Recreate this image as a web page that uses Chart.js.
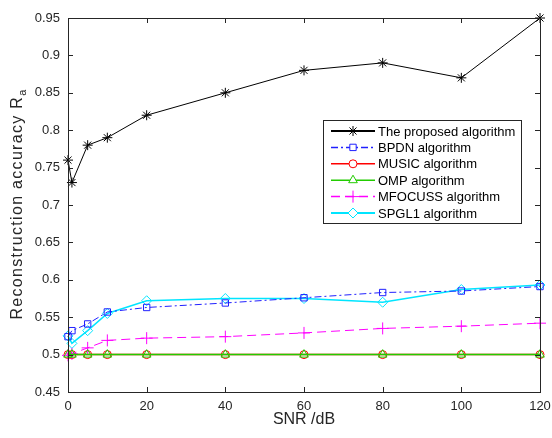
<!DOCTYPE html>
<html>
<head>
<meta charset="utf-8">
<script src="https://cdn.jsdelivr.net/npm/chart.js@4"></script>
<style>
  html, body { margin: 0; padding: 0; background: #fff; }
  #wrap { width: 552px; height: 438px; }
</style>
</head>
<body>
<div id="wrap"><canvas id="chart" width="552" height="438"></canvas></div>
<script>
// SNR values (dB) on the x axis
const snr = [0, 1, 5, 10, 20, 40, 60, 80, 100, 120];
const yTicks = [0.45, 0.5, 0.55, 0.6, 0.65, 0.7, 0.75, 0.8, 0.85, 0.9, 0.95];

const proposed = [0.76, 0.73, 0.78, 0.79, 0.82, 0.85, 0.88, 0.89, 0.87, 0.95];
const bpdn     = [0.524, 0.532, 0.541, 0.557, 0.563, 0.569, 0.576, 0.583, 0.585, 0.591];
const music    = [0.5, 0.5, 0.5, 0.5, 0.5, 0.5, 0.5, 0.5, 0.5, 0.5];
const omp      = [0.5, 0.5, 0.5, 0.5, 0.5, 0.5, 0.5, 0.5, 0.5, 0.5];
const mfocuss  = [0.499, 0.501, 0.509, 0.519, 0.522, 0.524, 0.529, 0.535, 0.538, 0.542];
const spgl1    = [0.525, 0.515, 0.532, 0.555, 0.572, 0.575, 0.575, 0.570, 0.587, 0.593];

const labels = ['The proposed algorithm', 'BPDN algorithm', 'MUSIC algorithm',
  'OMP algorithm', 'MFOCUSS algorithm', 'SPGL1 algorithm'];

function pts(vals) {
  return vals.map((v, i) => ({ x: snr[i], y: v }));
}

const FONT = '"Liberation Sans", Arial, sans-serif';

const series = [
  { data: proposed, color: '#000000', style: 'star', radius: 5, dash: [], lw: 1, legendLw: 2 },
  { data: bpdn, color: '#2020ff', style: 'rect', radius: 4.5, dash: [7, 3, 2, 3], lw: 1, legendLw: 1.5 },
  { data: music, color: '#ff0000', style: 'circle', radius: 4, dash: [], lw: 1.5, legendLw: 1.5 },
  { data: omp, color: '#22cc00', style: 'triangle', radius: 5, dash: [], lw: 1.5, legendLw: 1.5 },
  { data: mfocuss, color: '#ff00ff', style: 'cross', radius: 6, dash: [9, 5], lw: 1, legendLw: 1.5 },
  { data: spgl1, color: '#00e5ff', style: 'rectRot', radius: 5, dash: [], lw: 1.5, legendLw: 2 }
];

const datasets = series.map((s, i) => ({
  label: labels[i],
  data: pts(s.data),
  borderColor: s.color,
  backgroundColor: 'rgba(0,0,0,0)',
  borderWidth: s.lw,
  borderDash: s.dash,
  pointStyle: s.style,
  pointRadius: s.radius,
  pointBorderColor: s.color,
  pointBackgroundColor: 'rgba(0,0,0,0)',
  pointBorderWidth: 1,
  tension: 0,
  fill: false,
  clip: false,
  order: i === 2 ? 1 : 0  // MUSIC under OMP
}));

// frame, inward ticks, axis titles and the MATLAB style legend
const decor = {
  id: 'decor',
  afterDraw(chart) {
    const ctx = chart.ctx;
    const a = chart.chartArea;
    const xs = chart.scales.x, ys = chart.scales.y;
    ctx.save();
    ctx.strokeStyle = '#262626';
    ctx.lineWidth = 1;
    ctx.setLineDash([]);
    ctx.strokeRect(Math.round(a.left) + 0.5, Math.round(a.top) + 0.5,
      Math.round(a.right - a.left), Math.round(a.bottom - a.top));
    const tl = 5;
    ctx.beginPath();
    for (let v = 0; v <= 120; v += 20) {
      const px = Math.round(xs.getPixelForValue(v)) + 0.5;
      ctx.moveTo(px, a.bottom); ctx.lineTo(px, a.bottom - tl);
      ctx.moveTo(px, a.top); ctx.lineTo(px, a.top + tl);
    }
    yTicks.forEach(v => {
      const py = Math.round(ys.getPixelForValue(v)) + 0.5;
      ctx.moveTo(a.left, py); ctx.lineTo(a.left + tl, py);
      ctx.moveTo(a.right, py); ctx.lineTo(a.right - tl, py);
    });
    ctx.stroke();

    // axis titles
    ctx.fillStyle = '#262626';
    ctx.font = '16px ' + FONT;
    ctx.textAlign = 'center';
    ctx.textBaseline = 'alphabetic';
    ctx.fillText('SNR /dB', (a.left + a.right) / 2, 424);

    ctx.save();
    ctx.translate(22, (a.top + a.bottom) / 2 - 1);
    ctx.rotate(-Math.PI / 2);
    ctx.letterSpacing = '1.3px';
    const main = 'Reconstruction accuracy R';
    ctx.font = '16px ' + FONT;
    const w1 = ctx.measureText(main).width;
    ctx.font = '11px ' + FONT;
    const w2 = ctx.measureText('a').width;
    const start = -(w1 + w2) / 2;
    ctx.textAlign = 'left';
    ctx.font = '16px ' + FONT;
    ctx.fillText(main, start, 0);
    ctx.font = '11px ' + FONT;
    ctx.fillText('a', start + w1, 4);
    ctx.restore();

    // legend
    const lx = 323, ly = 120, lw = 198, lh = 103;
    ctx.fillStyle = '#ffffff';
    ctx.fillRect(lx, ly, lw, lh);
    ctx.strokeStyle = '#262626';
    ctx.lineWidth = 1;
    ctx.strokeRect(lx + 0.5, ly + 0.5, lw, lh);
    series.forEach((s, i) => {
      const cy = 131 + i * 16.4;
      ctx.strokeStyle = s.color;
      ctx.lineWidth = s.legendLw;
      ctx.setLineDash(s.dash);
      ctx.beginPath();
      ctx.moveTo(331, cy); ctx.lineTo(375, cy);
      ctx.stroke();
      ctx.setLineDash([]);
      ctx.lineWidth = 1;
      ctx.strokeStyle = s.color;
      ctx.fillStyle = '#ffffff';
      Chart.helpers.drawPoint(ctx, {
        pointStyle: s.style, radius: s.radius, rotation: 0, borderWidth: 1
      }, 353, cy);
      ctx.fillStyle = '#000000';
      ctx.font = '13px ' + FONT;
      ctx.textAlign = 'left';
      ctx.textBaseline = 'middle';
      ctx.fillText(labels[i], 378, cy + 1);
    });
    ctx.restore();
  }
};

new Chart(document.getElementById('chart'), {
  type: 'line',
  data: { datasets: datasets },
  options: {
    responsive: false,
    animation: false,
    layout: { padding: { left: 0, top: 18, right: 12, bottom: 0 } },
    plugins: { legend: { display: false }, tooltip: { enabled: false } },
    scales: {
      x: {
        type: 'linear', min: 0, max: 120,
        grid: { display: false, drawTicks: false },
        border: { display: false },
        ticks: { stepSize: 20, padding: 7, color: '#262626', font: { family: FONT, size: 13 } },
        afterFit(s) { s.height = 46; s.paddingLeft = 0; s.paddingRight = 0; }
      },
      y: {
        type: 'linear', min: 0.45, max: 0.95,
        grid: { display: false, drawTicks: false },
        border: { display: false },
        afterBuildTicks(s) { s.ticks = yTicks.map(v => ({ value: v })); },
        ticks: {
          padding: 8, color: '#262626', font: { family: FONT, size: 13 },
          callback: v => String(+v.toFixed(2))
        },
        afterFit(s) { s.width = 68; s.paddingTop = 0; s.paddingBottom = 0; }
      }
    }
  },
  plugins: [decor]
});
</script>
</body>
</html>
